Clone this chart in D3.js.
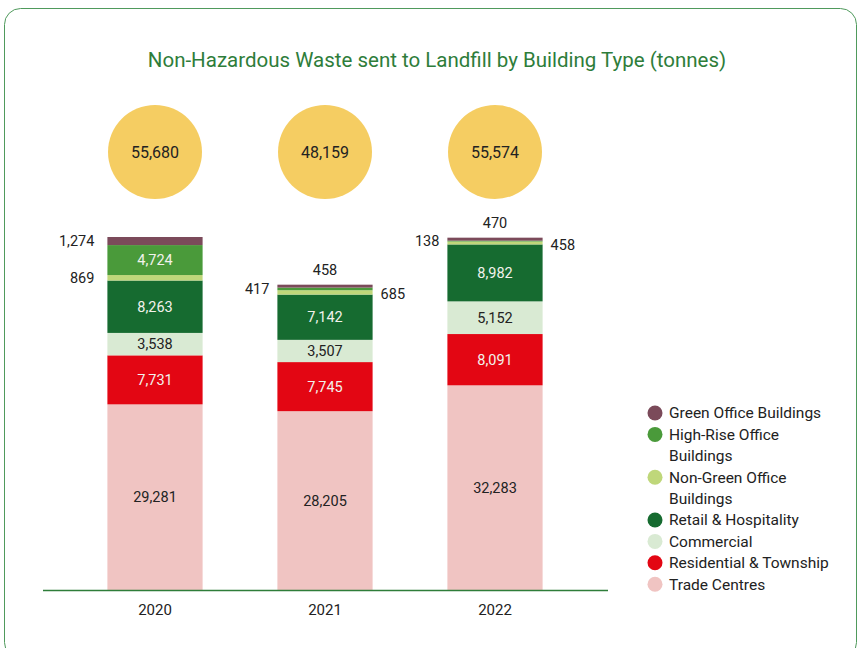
<!DOCTYPE html>
<html>
<head>
<meta charset="utf-8">
<script src="https://cdn.jsdelivr.net/npm/d3@7"></script>
<style>
  body { margin: 0; background: #fff; }
  svg { font-family: Roboto, "Noto Sans", sans-serif; }
</style>
</head>
<body>
<svg id="chart"></svg>
<script>
// data
const years = ["2020", "2021", "2022"];
const totals = [55680, 48159, 55574];
// bottom to top stacking order
const series = ["Trade Centres", "Residential & Township", "Commercial", "Retail & Hospitality",
                "Non-Green Office Buildings", "High-Rise Office Buildings", "Green Office Buildings"];
const tradeCentres = [29281, 28205, 32283];
const residential = [7731, 7745, 8091];
const commercial = [3538, 3507, 5152];
const retail = [8263, 7142, 8982];
const nonGreenOffice = [869, 685, 458];
const highRiseOffice = [4724, 417, 138];
const greenOffice = [1274, 458, 470];

const seriesValues = [tradeCentres, residential, commercial, retail, nonGreenOffice, highRiseOffice, greenOffice];
const colors = ["#f0c4c2", "#e30613", "#d9ead3", "#166b30", "#bfd77a", "#4a9a3a", "#7b4a5a"];
const darkText = [true, false, true, false, true, false, false];
// legend order (top to bottom)
const legendOrder = [6, 5, 4, 3, 2, 1, 0];
const legendLines = [["Green Office Buildings"], ["High-Rise Office", "Buildings"], ["Non-Green Office", "Buildings"],
                     ["Retail & Hospitality"], ["Commercial"], ["Residential & Township"], ["Trade Centres"]];

// where the small segment labels go: inside / left / right / top
const labelSpot = {
  "2020": ["in", "in", "in", "in", "left", "in", "left"],
  "2021": ["in", "in", "in", "in", "right", "left", "top"],
  "2022": ["in", "in", "in", "in", "right", "left", "top"]
};

const W = 858, H = 648;
const svg = d3.select("#chart").attr("width", W).attr("height", H);

// frame
svg.append("rect")
  .attr("x", 4.5).attr("y", 8.5)
  .attr("width", 852).attr("height", 650)
  .attr("rx", 16)
  .attr("fill", "none")
  .attr("stroke", "#4f9a5c")
  .attr("stroke-width", 1);

// title
svg.append("text")
  .attr("x", 437).attr("y", 67)
  .attr("text-anchor", "middle")
  .attr("fill", "#2e7d3a")
  .style("font-size", "20.5px")
  .text("Non-Hazardous Waste sent to Landfill by Building Type (tonnes)");

const x = d3.scaleBand()
  .domain(years)
  .range([70, 580])
  .paddingInner(0.44)
  .paddingOuter(0.22);

const y = d3.scaleLinear()
  .domain([0, 55680])
  .range([590, 237]);

const fmt = d3.format(",");

// build stack table
const table = years.map((yr, i) => {
  const row = { year: yr };
  series.forEach((s, j) => { row[s] = seriesValues[j][i]; });
  return row;
});
const stacked = d3.stack().keys(series)(table);

const groups = svg.selectAll(".layer")
  .data(stacked)
  .enter().append("g")
  .attr("class", "layer")
  .attr("fill", (d, i) => colors[i]);

groups.selectAll("rect")
  .data(d => d)
  .enter().append("rect")
  .attr("x", d => x(d.data.year))
  .attr("y", d => y(d[1]))
  .attr("width", x.bandwidth())
  .attr("height", d => y(d[0]) - y(d[1]));

// segment labels
stacked.forEach((layer, j) => {
  layer.forEach(d => {
    const yr = d.data.year;
    const spot = labelSpot[yr][j];
    const v = d[1] - d[0];
    const cy = (y(d[0]) + y(d[1])) / 2;
    const x0 = x(yr), x1 = x0 + x.bandwidth();
    let tx, ty, anchor, fill;
    if (spot === "in") {
      tx = (x0 + x1) / 2; ty = cy; anchor = "middle";
      fill = darkText[j] ? "#222" : "#f2f2ec";
    } else if (spot === "left") {
      tx = yr === "2020" ? x0 - 13 : x0 - 8; ty = cy; anchor = "end"; fill = "#222";
    } else if (spot === "right") {
      tx = x1 + 8; ty = cy + 2; anchor = "start"; fill = "#222";
    } else {
      tx = (x0 + x1) / 2; ty = y(d[1]) - 15; anchor = "middle"; fill = "#222";
    }
    svg.append("text")
      .attr("x", tx).attr("y", ty)
      .attr("dy", "0.35em")
      .attr("text-anchor", anchor)
      .attr("fill", fill)
      .style("font-size", "14.5px")
      .text(fmt(v));
  });
});

// total bubbles
const bubbles = svg.selectAll(".bubble")
  .data(years)
  .enter().append("g")
  .attr("class", "bubble")
  .attr("transform", d => `translate(${x(d) + x.bandwidth() / 2}, 152)`);

bubbles.append("circle")
  .attr("r", 47)
  .attr("fill", "#f5cd62");

bubbles.append("text")
  .attr("text-anchor", "middle")
  .attr("dy", "0.35em")
  .attr("fill", "#222")
  .style("font-size", "16px")
  .text((d, i) => fmt(totals[i]));

// x axis
svg.append("line")
  .attr("x1", 43).attr("x2", 608)
  .attr("y1", 590.5).attr("y2", 590.5)
  .attr("stroke", "#2e7d3a")
  .attr("stroke-width", 1.5);

svg.selectAll(".year")
  .data(years)
  .enter().append("text")
  .attr("class", "year")
  .attr("x", d => x(d) + x.bandwidth() / 2)
  .attr("y", 610)
  .attr("text-anchor", "middle")
  .attr("dy", "0.35em")
  .attr("fill", "#222")
  .style("font-size", "15px")
  .text(d => d);

// legend
const legend = svg.append("g").attr("transform", "translate(655, 413)");
let rowY = 0;
legendOrder.forEach((j, k) => {
  legend.append("circle")
    .attr("cx", 0).attr("cy", rowY)
    .attr("r", 7.5)
    .attr("fill", colors[j]);
  legendLines[k].forEach((line, li) => {
    legend.append("text")
      .attr("x", 14).attr("y", rowY + li * 21.4)
      .attr("dy", "0.35em")
      .attr("fill", "#222")
      .style("font-size", "15.5px")
      .text(line);
  });
  rowY += legendLines[k].length * 21.4;
});
</script>
</body>
</html>
